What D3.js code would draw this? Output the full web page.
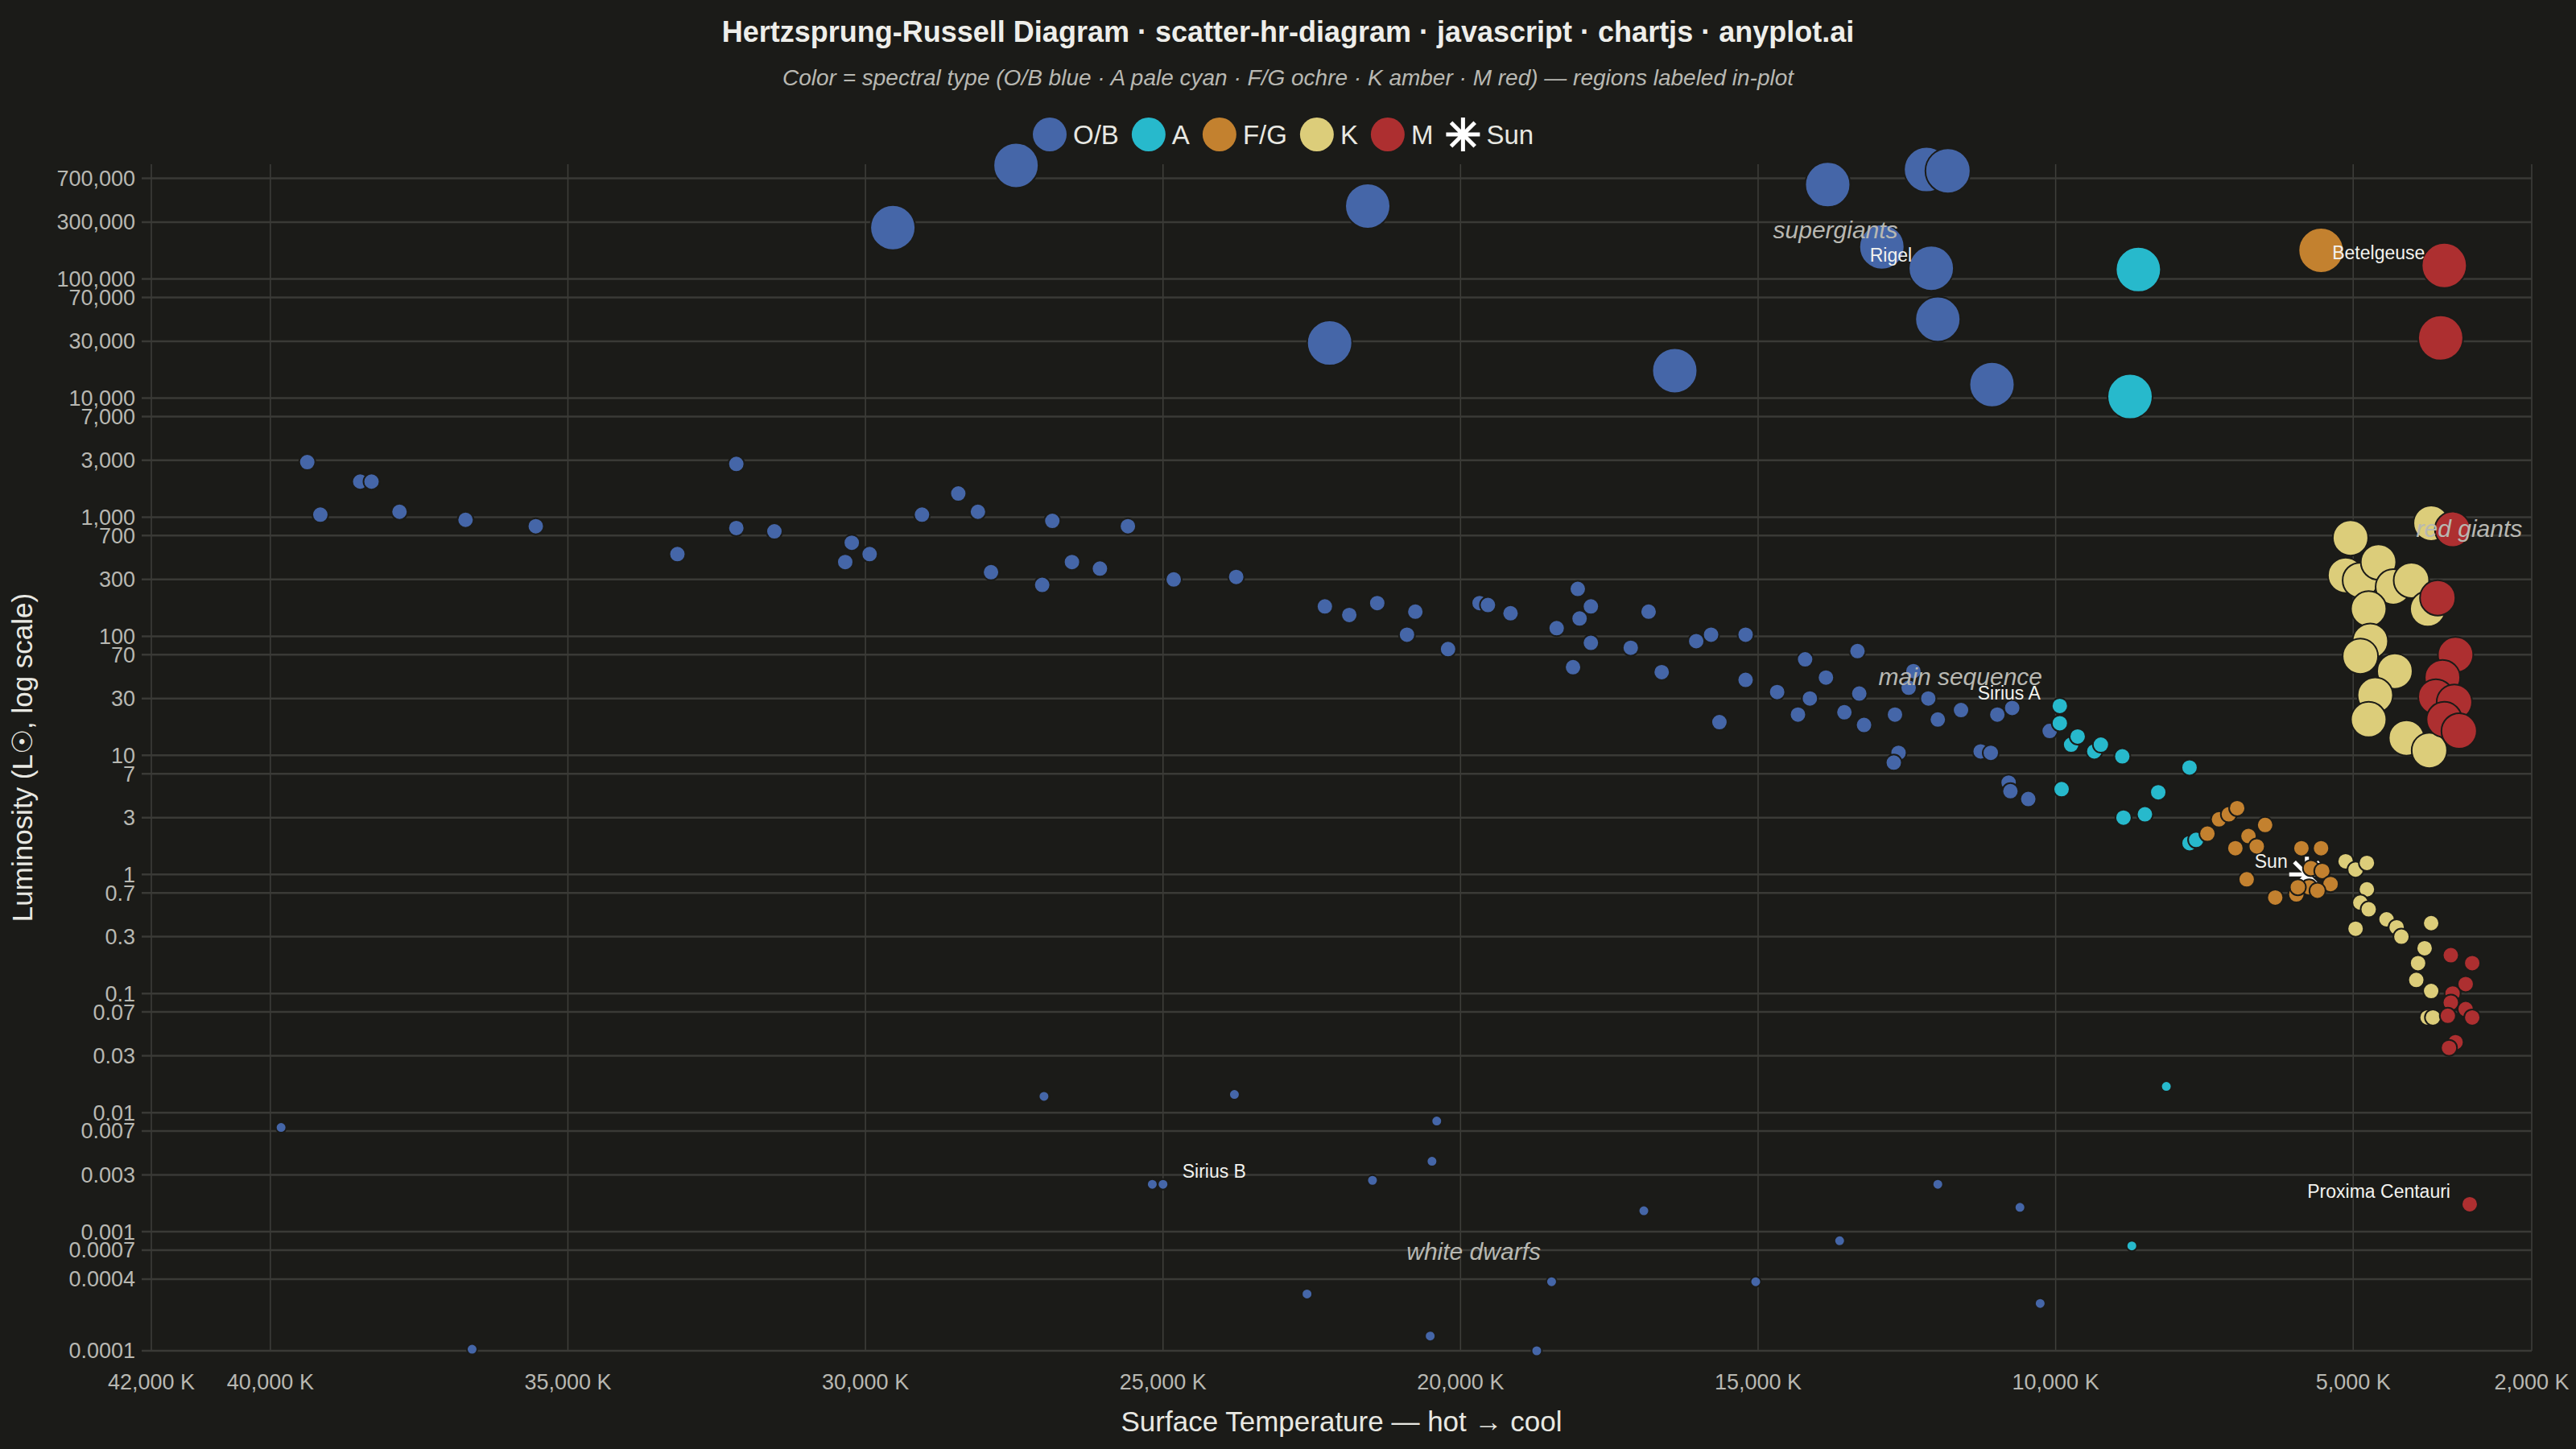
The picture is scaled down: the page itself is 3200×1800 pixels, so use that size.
<!DOCTYPE html>
<html>
<head>
<meta charset="utf-8">
<script src="https://cdn.jsdelivr.net/npm/d3@7"></script>
<style>
  body { margin: 0; background: #1b1b18; }
  svg { display: block; font-family: "Liberation Sans", Arial, sans-serif; }
</style>
</head>
<body>
<div id="chart"></div>
<script>
// [temperature K, luminosity L☉, spectral type]
const supergiants = [
  [29540, 2.7e5, "OB"], [27470, 9.0e5, "OB"], [21560, 4.1e5, "OB"], [22200, 2.9e4, "OB"],
  [16400, 1.7e4, "OB"], [13830, 6.2e5, "OB"], [12170, 8.3e5, "OB"], [11810, 8.1e5, "OB"],
  [12920, 1.86e5, "OB"], [12090, 1.23e5, "OB"], [11980, 4.6e4, "OB"], [11070, 1.3e4, "OB"],
  [8610, 1.2e5, "A"], [8750, 1.03e4, "A"], [5540, 1.74e5, "FG"], [3470, 1.3e5, "M"], [3530, 3.2e4, "M"]
];
const giants = [
  [5045, 670, "K"], [3690, 890, "K"], [5127, 325, "K"], [4880, 295, "K"], [4575, 420, "K"],
  [4326, 260, "K"], [4022, 295, "K"], [4740, 170, "K"], [3746, 170, "K"], [4713, 91, "K"],
  [4880, 68, "K"], [4300, 51, "K"], [4630, 32, "K"], [4740, 20, "K"], [4105, 14, "K"], [3720, 11, "K"],
  [3330, 790, "M"], [3580, 210, "M"], [3280, 70, "M"], [3500, 45, "M"], [3610, 31, "M"],
  [3300, 28, "M"], [3470, 20, "M"], [3220, 16, "M"]
];
const mainSequence = [
  [39380, 2900, "OB"], [39160, 1050, "OB"], [38490, 1990, "OB"], [38300, 1990, "OB"], [37830, 1110, "OB"],
  [36720, 950, "OB"], [35540, 840, "OB"], [33160, 490, "OB"], [32170, 2800, "OB"], [32170, 810, "OB"],
  [31530, 760, "OB"], [30340, 420, "OB"], [30230, 610, "OB"], [29930, 490, "OB"], [29050, 1050, "OB"],
  [28440, 1580, "OB"], [28110, 1110, "OB"], [27890, 345, "OB"], [27030, 270, "OB"], [26860, 930, "OB"],
  [26530, 420, "OB"], [26060, 370, "OB"], [25590, 840, "OB"], [24820, 300, "OB"], [23770, 315, "OB"],
  [22280, 178, "OB"], [21870, 151, "OB"], [21400, 190, "OB"], [20900, 103, "OB"], [20760, 161, "OB"],
  [20210, 78, "OB"], [19680, 190, "OB"], [19540, 183, "OB"], [19160, 156, "OB"], [18385, 117, "OB"],
  [18110, 55, "OB"], [18030, 250, "OB"], [18000, 141, "OB"], [17810, 178, "OB"], [17810, 88, "OB"],
  [17140, 80, "OB"], [16840, 161, "OB"], [16620, 50, "OB"], [16040, 91, "OB"], [15790, 103, "OB"],
  [15650, 19, "OB"], [15210, 103, "OB"], [15210, 43, "OB"], [14680, 34, "OB"], [14330, 22, "OB"],
  [14210, 64, "OB"], [14130, 30, "OB"], [13860, 45, "OB"], [13550, 23, "OB"], [13330, 75, "OB"],
  [13300, 33, "OB"], [13220, 18, "OB"], [12700, 22, "OB"], [12640, 10.5, "OB"], [12720, 8.7, "OB"],
  [12470, 37, "OB"], [12390, 51, "OB"], [12140, 30, "OB"], [11980, 20, "OB"], [11590, 24, "OB"],
  [11260, 10.8, "OB"], [11090, 10.5, "OB"], [10980, 22, "OB"], [10730, 25, "OB"], [10790, 5.9, "OB"],
  [10760, 5.0, "OB"], [10460, 4.3, "OB"], [10100, 16, "OB"],
  [9930, 26, "A"], [9930, 18.6, "A"], [9740, 12.3, "A"], [9630, 14.4, "A"], [9350, 10.8, "A"],
  [9240, 12.3, "A"], [8880, 9.8, "A"], [9900, 5.2, "A"], [8276, 4.9, "A"], [8860, 3.0, "A"],
  [8500, 3.2, "A"], [7750, 7.9, "A"], [7750, 1.83, "A"], [7640, 1.95, "A"],
  [7450, 2.2, "FG"], [7255, 2.9, "FG"], [7090, 3.2, "FG"], [6950, 3.6, "FG"], [6760, 2.1, "FG"],
  [6480, 2.6, "FG"], [6980, 1.66, "FG"], [6620, 1.72, "FG"], [6790, 0.91, "FG"], [6310, 0.64, "FG"],
  [5955, 0.68, "FG"], [5870, 1.66, "FG"], [5540, 1.66, "FG"], [5710, 1.13, "FG"], [5520, 1.07, "FG"],
  [5380, 0.83, "FG"], [5740, 0.78, "FG"], [5600, 0.73, "FG"], [5930, 0.78, "FG"],
  [5127, 1.29, "K"], [4960, 1.1, "K"], [4770, 1.25, "K"], [4770, 0.75, "K"], [4880, 0.58, "K"],
  [4740, 0.51, "K"], [4440, 0.42, "K"], [4270, 0.36, "K"], [4190, 0.30, "K"], [3690, 0.39, "K"],
  [3800, 0.24, "K"], [4960, 0.35, "K"], [3910, 0.18, "K"], [3690, 0.105, "K"], [3940, 0.13, "K"],
  [3750, 0.063, "K"], [3660, 0.063, "K"],
  [3360, 0.21, "M"], [3000, 0.18, "M"], [3110, 0.12, "M"], [3330, 0.10, "M"], [3360, 0.084, "M"],
  [3410, 0.065, "M"], [3110, 0.074, "M"], [3000, 0.063, "M"], [3280, 0.039, "M"], [3390, 0.035, "M"],
  [3042, 0.0017, "M"]
];
const whiteDwarfs = [
  [39820, 0.0075, "OB"], [36610, 0.000103, "OB"], [27000, 0.0137, "OB"], [23800, 0.0142, "OB"],
  [25180, 0.0025, "OB"], [25000, 0.0025, "OB"], [21480, 0.0027, "OB"], [20480, 0.0039, "OB"],
  [20400, 0.0085, "OB"], [16920, 0.0015, "OB"], [13630, 0.00084, "OB"], [11980, 0.0025, "OB"],
  [10600, 0.0016, "OB"], [20510, 0.000133, "OB"], [18720, 0.0001, "OB"], [18470, 0.00038, "OB"],
  [22580, 0.0003, "OB"], [15040, 0.00038, "OB"], [10260, 0.00025, "OB"],
  [8140, 0.0166, "A"], [8720, 0.00076, "A"]
];
const sun = [5778, 1];

const namedStars = [
  { name: "Rigel", t: 12090, l: 1.23e5, side: "left" },
  { name: "Betelgeuse", t: 3470, l: 1.3e5, side: "left" },
  { name: "Sirius A", t: 9930, l: 26, side: "left" },
  { name: "Sirius B", t: 25000, l: 0.0025, side: "right" },
  { name: "Proxima Centauri", t: 3042, l: 0.0017, side: "left" },
  { name: "Sun", t: 5778, l: 1, side: "left" }
];
const regionLabels = [
  { text: "supergiants", t: 13700, l: 2.6e5 },
  { text: "red giants", t: 3050, l: 800 },
  { text: "main sequence", t: 11600, l: 46 },
  { text: "white dwarfs", t: 19780, l: 0.00068 }
];

const xTicks = [42000, 40000, 35000, 30000, 25000, 20000, 15000, 10000, 5000, 2000];
const yTicks = [0.0001, 0.0004, 0.0007, 0.001, 0.003, 0.007, 0.01, 0.03, 0.07, 0.1, 0.3, 0.7,
  1, 3, 7, 10, 30, 70, 100, 300, 700, 1000, 3000, 7000, 10000, 30000, 70000, 100000, 300000, 700000];

const types = ["OB", "A", "FG", "K", "M"];
const typeNames = ["O/B", "A", "F/G", "K", "M"];
const colors = { OB: "#4566a8", A: "#27b9cc", FG: "#c3812f", K: "#dccd7a", M: "#ad2f30" };

const W = 3200, H = 1800;
const margin = { top: 204, right: 55, bottom: 122, left: 188 };

const svg = d3.select("#chart").append("svg").attr("width", W).attr("height", H);
svg.append("rect").attr("width", W).attr("height", H).attr("fill", "#1b1b18");

const x = d3.scaleLinear().domain([42000, 2000]).range([margin.left, W - margin.right]);
const y = d3.scaleLog().domain([0.0001, 9.2e5]).range([H - margin.bottom, margin.top]);

// grid
svg.append("g").selectAll("line").data(xTicks).join("line")
  .attr("x1", d => x(d)).attr("x2", d => x(d))
  .attr("y1", margin.top).attr("y2", H - margin.bottom)
  .attr("stroke", "#3f3f3b").attr("stroke-width", 1.5);
svg.append("g").selectAll("line").data(yTicks).join("line")
  .attr("x1", margin.left - 12).attr("x2", W - margin.right)
  .attr("y1", d => y(d)).attr("y2", d => y(d))
  .attr("stroke", "#3a3a36").attr("stroke-width", 2.5);

// tick labels
svg.append("g").selectAll("text").data(yTicks).join("text")
  .attr("x", margin.left - 20).attr("y", d => y(d)).attr("dy", "0.35em")
  .attr("text-anchor", "end").attr("font-size", 27).attr("fill", "#b8b8b2")
  .text(d => d3.format(",")(d));
svg.append("g").selectAll("text").data(xTicks).join("text")
  .attr("x", d => x(d)).attr("y", H - margin.bottom + 48)
  .attr("text-anchor", "middle").attr("font-size", 27).attr("fill", "#b8b8b2")
  .text(d => d3.format(",")(d) + " K");

// axis titles
svg.append("text").attr("x", (margin.left + W - margin.right) / 2).attr("y", 1778)
  .attr("text-anchor", "middle").attr("font-size", 35).attr("fill", "#e8e8e2")
  .text("Surface Temperature — hot → cool");
svg.append("text").attr("transform", `translate(40,${(margin.top + H - margin.bottom) / 2}) rotate(-90)`)
  .attr("text-anchor", "middle").attr("font-size", 35).attr("fill", "#e8e8e2")
  .text("Luminosity (L☉, log scale)");

// title
svg.append("text").attr("x", W / 2).attr("y", 52).attr("text-anchor", "middle")
  .attr("font-size", 36).attr("font-weight", "bold").attr("fill", "#eeeeea")
  .text("Hertzsprung-Russell Diagram · scatter-hr-diagram · javascript · chartjs · anyplot.ai");
svg.append("text").attr("x", W / 2).attr("y", 106).attr("text-anchor", "middle")
  .attr("font-size", 28).attr("font-style", "italic").attr("fill", "#b8b8b2")
  .text("Color = spectral type (O/B blue · A pale cyan · F/G ochre · K amber · M red) — regions labeled in-plot");

function starPath(r) {
  let p = "";
  for (let i = 0; i < 4; i++) {
    const a = i * Math.PI / 4;
    p += `M${-r * Math.cos(a)},${-r * Math.sin(a)}L${r * Math.cos(a)},${r * Math.sin(a)}`;
  }
  return p;
}

// points
const plot = svg.append("g");
function drawGroup(data, r) {
  plot.append("g").selectAll("circle").data(data).join("circle")
    .attr("cx", d => x(d[0])).attr("cy", d => y(d[1])).attr("r", r)
    .attr("fill", d => colors[d[2]]).attr("stroke", "#1b1b18").attr("stroke-width", 2);
}
plot.append("path").attr("d", starPath(22))
  .attr("transform", `translate(${x(sun[0])},${y(sun[1])})`)
  .attr("stroke", "#ffffff").attr("stroke-width", 5).attr("fill", "none");
drawGroup(whiteDwarfs, 6.5);
drawGroup(mainSequence, 10);
drawGroup(giants, 22);
drawGroup(supergiants, 28);

// region labels
svg.append("g").selectAll("text").data(regionLabels).join("text")
  .attr("x", d => x(d.t)).attr("y", d => y(d.l)).attr("dy", "0.35em")
  .attr("text-anchor", "middle").attr("font-size", 30).attr("font-style", "italic")
  .attr("fill", "#b8b8b2").text(d => d.text);

// named stars
svg.append("g").selectAll("text").data(namedStars).join("text")
  .attr("x", d => x(d.t) + (d.side === "left" ? -24 : 24)).attr("y", d => y(d.l) - 16)
  .attr("dy", "0.35em")
  .attr("text-anchor", d => d.side === "left" ? "end" : "start")
  .attr("font-size", 23).attr("fill", "#f2f2ee").text(d => d.name);

// legend
const legendItems = typeNames.map((n, i) => ({ name: n, color: colors[types[i]] }));
const legend = svg.append("g").attr("transform", "translate(1283,167)");
let lx = 0;
legendItems.forEach(d => {
  legend.append("circle").attr("cx", lx + 21).attr("cy", 0).attr("r", 21).attr("fill", d.color);
  const t = legend.append("text").attr("x", lx + 50).attr("y", 0).attr("dy", "0.35em")
    .attr("font-size", 33).attr("fill", "#e8e8e2").text(d.name);
  lx += 50 + t.node().getComputedTextLength() + 16;
});
legend.append("path").attr("d", starPath(21)).attr("transform", `translate(${lx + 21},0)`)
  .attr("stroke", "#ffffff").attr("stroke-width", 5);
legend.append("text").attr("x", lx + 50).attr("y", 0).attr("dy", "0.35em")
  .attr("font-size", 33).attr("fill", "#e8e8e2").text("Sun");
</script>
</body>
</html>
